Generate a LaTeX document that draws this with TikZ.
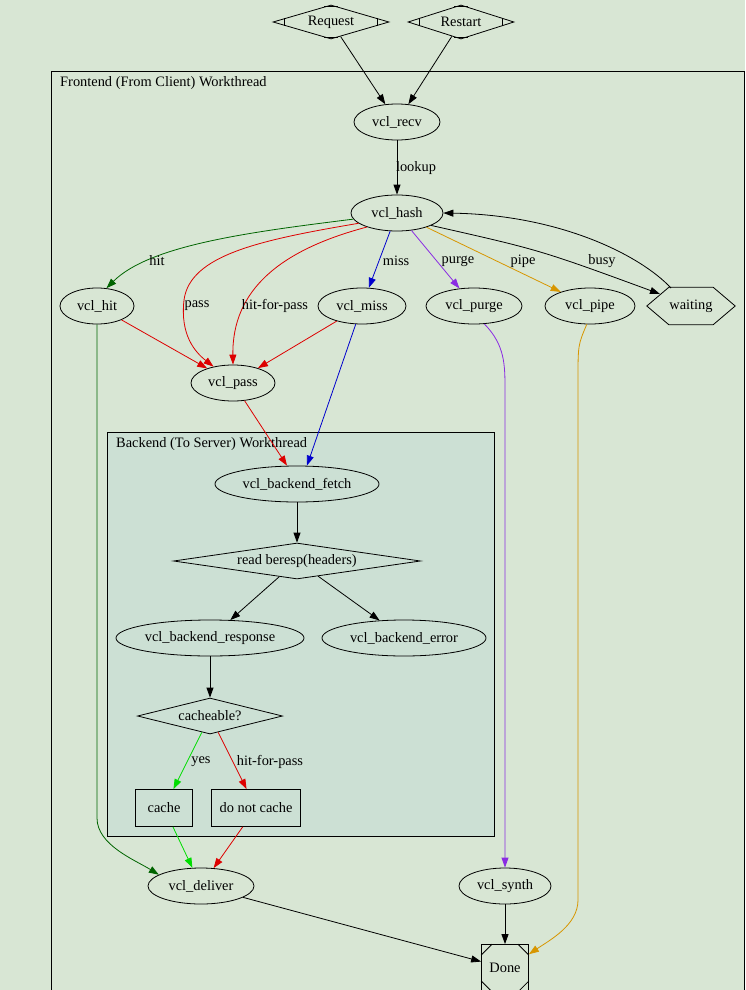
\documentclass[tikz,border=0pt]{standalone}
\usepackage{fontspec}
\setmainfont{Liberation Serif}
\usetikzlibrary{calc,arrows.meta,shapes.geometric}

\definecolor{bgcol}{RGB}{216,230,212}
\definecolor{backcol}{RGB}{204,224,212}
\definecolor{hitcol}{RGB}{0,100,0}
\definecolor{passcol}{RGB}{221,0,0}
\definecolor{misscol}{RGB}{0,0,205}
\definecolor{purgecol}{RGB}{138,43,226}
\definecolor{pipecol}{RGB}{215,150,0}
\definecolor{yescol}{RGB}{0,221,0}

\tikzset{
  state/.style={draw, ellipse, line width=0.8pt, inner sep=0pt, minimum height=36pt},
  choice/.style={draw, diamond, line width=0.8pt, inner sep=0pt, minimum height=36pt},
  box/.style={draw, rectangle, line width=0.8pt, inner sep=0pt, minimum height=37pt},
  flow/.style={line width=0.8pt, -{Triangle[length=10pt,width=7pt]}},
  lbl/.style={inner sep=0pt, text=black},
  frame/.style={line width=0.8pt},
}

% small cuts at the corners of a Mdiamond
\newcommand\mdcuts[1]{
  \draw[frame] ($(#1.west)+(12,-3.7)$) -- ($(#1.west)+(12,3.7)$);
  \draw[frame] ($(#1.east)+(-12,-3.7)$) -- ($(#1.east)+(-12,3.7)$);
  \draw[frame] ($(#1.north)+(-7,2)$) -- ($(#1.north)+(7,2)$);
  \draw[frame] ($(#1.south)+(-7,-2)$) -- ($(#1.south)+(7,-2)$);
}

\begin{document}
\begin{tikzpicture}[x=1pt,y=-1pt,font=\fontsize{14.4pt}{16pt}\selectfont]
  %%%%% CANVAS %%%%%
  \fill[bgcol] (0,0) rectangle (745,990);
  \useasboundingbox (0,0) rectangle (745,990);
  \clip (0,0) rectangle (745,990);

  %%%%% CLUSTERS %%%%%
  \draw[frame] (51,71) rectangle (744,1010);
  \node[anchor=west, inner sep=0pt] (frontlbl) at (60,83) {Frontend (From Client) Workthread};
  \draw[frame, fill=backcol] (107,432) rectangle (494,836);
  \node[anchor=west, inner sep=0pt] (backlbl) at (116,444) {Backend (To Server) Workthread};

  %%%%% NODES %%%%%
  \node[choice, aspect=3.4, minimum width=116pt, minimum height=34pt] (request) at (331,22) {Request};
  \node[choice, aspect=3.1, minimum width=106pt, minimum height=34pt] (restart) at (461,22) {Restart};
  \mdcuts{request}
  \mdcuts{restart}

  \node[state, minimum width=86pt] (recv) at (397,122) {vcl\_recv};
  \node[state, minimum width=92pt] (hash) at (397,213) {vcl\_hash};
  \node[state, minimum width=74pt] (hit) at (97,306) {vcl\_hit};
  \node[state, minimum width=88pt] (miss) at (362,306) {vcl\_miss};
  \node[state, minimum width=96pt] (purge) at (474,306) {vcl\_purge};
  \node[state, minimum width=90pt] (pipe) at (590,306) {vcl\_pipe};
  \node[minimum width=88pt, minimum height=37pt] (waiting) at (691,306) {waiting};
  \draw[frame] (waiting.west) -- ($(waiting.north west)+(22,0)$) -- ($(waiting.north east)+(-22,0)$)
    -- (waiting.east) -- ($(waiting.south east)+(-22,0)$) -- ($(waiting.south west)+(22,0)$) -- cycle;
  \coordinate (waitin) at (660,294);
  \coordinate (waitout) at (671,288);
  \node[state, minimum width=84pt] (pass) at (233,383) {vcl\_pass};

  \node[state, minimum width=164pt] (fetch) at (297,484) {vcl\_backend\_fetch};
  \node[choice, aspect=6.86, minimum width=247pt] (beresp) at (297,561) {read beresp(headers)};
  \node[state, minimum width=188pt] (response) at (210,638) {vcl\_backend\_response};
  \node[state, minimum width=164pt] (error) at (404,638) {vcl\_backend\_error};
  \node[choice, aspect=4.03, minimum width=145pt] (cacheable) at (210,716) {cacheable?};
  \node[box, minimum width=57pt] (cache) at (164,808) {cache};
  \node[box, minimum width=89pt] (nocache) at (256,808) {do not cache};

  \node[state, minimum width=106pt] (deliver) at (201,886) {vcl\_deliver};
  \node[state, minimum width=92pt] (synth) at (505,886) {vcl\_synth};
  \node[box, minimum width=47pt, minimum height=47pt] (done) at (505,968) {Done};
  \draw[frame] ($(done.north west)+(0,11)$) -- ($(done.north west)+(11,0)$);
  \draw[frame] ($(done.north east)+(-11,0)$) -- ($(done.north east)+(0,11)$);
  \draw[frame] ($(done.south west)+(0,-11)$) -- ($(done.south west)+(11,0)$);
  \draw[frame] ($(done.south east)+(-11,0)$) -- ($(done.south east)+(0,-11)$);

  %%%%% EDGES %%%%%
  \draw[flow] (request) -- (recv);
  \draw[flow] (restart) -- (recv);
  \draw[flow] (recv) -- (hash) node[lbl, at={(416,168)}] {lookup};

  \draw[flow, hitcol] (hash.188) .. controls (250,232) and (150,245) .. (hit.62)
    node[lbl, at={(157,261)}] {hit};
  \draw[flow, passcol] (hash.195) .. controls (260,240) and (190,255) .. (184,300)
    .. controls (180,335) and (195,352) .. (pass.140) node[lbl, at={(197,306)}] {pass};
  \draw[flow, passcol] (hash.205) .. controls (280,250) and (232,290) .. (pass.north)
    node[lbl, at={(275,306)}] {hit-for-pass};
  \draw[flow, misscol] (hash) -- (miss) node[lbl, at={(396,261)}] {miss};
  \draw[flow, purgecol] (hash) -- (purge) node[lbl, at={(458,261)}] {purge};
  \draw[flow, pipecol] (hash) -- (pipe) node[lbl, at={(523,261)}] {pipe};
  \draw[flow] (hash.-20) .. controls (540,250) .. (waitin) node[lbl, at={(602,261)}] {busy};
  \draw[flow] (waitout) .. controls (640,255) and (560,215) .. (hash.east);

  \draw[flow, passcol] (hit) -- (pass);
  \draw[flow, passcol] (miss) -- (pass);
  \draw[flow, hitcol] (hit) -- (97,818) .. controls (97,845) and (135,860) .. (deliver.165);
  \draw[flow, passcol] (pass) -- ($(fetch.north)+(-10,0)$);
  \draw[flow, misscol] (miss) -- ($(fetch.north)+(10,0)$);
  \draw[flow, purgecol] (purge.-60) .. controls (505,345) and (505,365) .. (505,390) -- (synth);
  \draw[flow, pipecol] (pipe.-100) .. controls (578,345) .. (578,380) -- (578,900)
    .. controls (578,925) and (550,940) .. (done.30);

  \draw[flow] (fetch) -- (beresp);
  \draw[flow] (beresp) -- (response);
  \draw[flow] (beresp) -- (error);
  \draw[flow] (response) -- (cacheable);
  \draw[flow, yescol] (cacheable) -- (cache) node[lbl, at={(201,762)}] {yes};
  \draw[flow, passcol] (cacheable) -- (nocache) node[lbl, at={(270,762)}] {hit-for-pass};
  \draw[flow, yescol] (cache) -- (deliver);
  \draw[flow, passcol] (nocache) -- (deliver);

  \draw[flow] (deliver) -- (done);
  \draw[flow] (synth) -- (done);
\end{tikzpicture}
\end{document}
